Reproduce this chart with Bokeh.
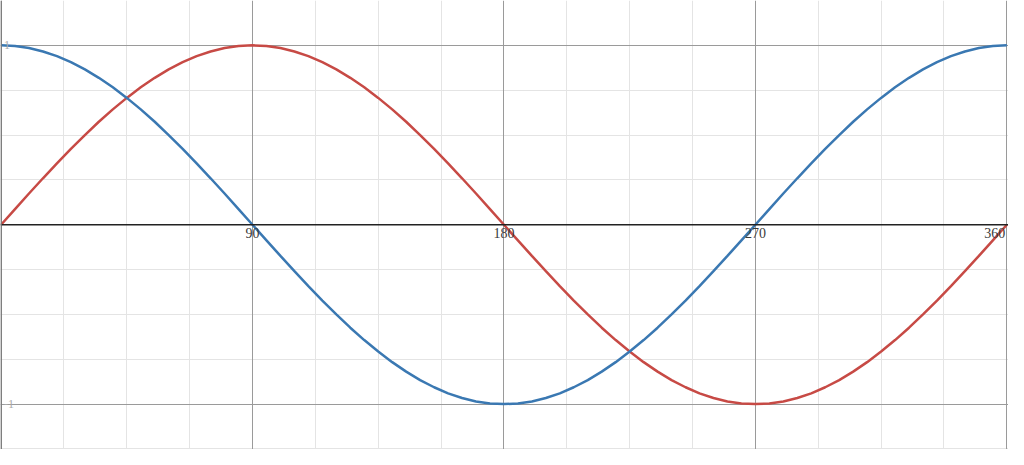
from bokeh.plotting import figure
from bokeh.models import Grid, FixedTicker, Span, ColumnDataSource
from bokeh.core.properties import value
from bokeh.embed import file_html
from bokeh.resources import INLINE

# --- data ---
angles = list(range(0, 361, 5))
sin_vals = [0.0, 0.087, 0.174, 0.259, 0.342, 0.423, 0.5, 0.574, 0.643, 0.707, 0.766, 0.819, 0.866, 0.906, 0.940, 0.966, 0.985, 0.996, 1.0,
            0.996, 0.985, 0.966, 0.940, 0.906, 0.866, 0.819, 0.766, 0.707, 0.643, 0.574, 0.5, 0.423, 0.342, 0.259, 0.174, 0.087, 0.0,
            -0.087, -0.174, -0.259, -0.342, -0.423, -0.5, -0.574, -0.643, -0.707, -0.766, -0.819, -0.866, -0.906, -0.940, -0.966, -0.985, -0.996, -1.0,
            -0.996, -0.985, -0.966, -0.940, -0.906, -0.866, -0.819, -0.766, -0.707, -0.643, -0.574, -0.5, -0.423, -0.342, -0.259, -0.174, -0.087, 0.0]
cos_vals = [1.0, 0.996, 0.985, 0.966, 0.940, 0.906, 0.866, 0.819, 0.766, 0.707, 0.643, 0.574, 0.5, 0.423, 0.342, 0.259, 0.174, 0.087, 0.0,
            -0.087, -0.174, -0.259, -0.342, -0.423, -0.5, -0.574, -0.643, -0.707, -0.766, -0.819, -0.866, -0.906, -0.940, -0.966, -0.985, -0.996, -1.0,
            -0.996, -0.985, -0.966, -0.940, -0.906, -0.866, -0.819, -0.766, -0.707, -0.643, -0.574, -0.5, -0.423, -0.342, -0.259, -0.174, -0.087, 0.0,
            0.087, 0.174, 0.259, 0.342, 0.423, 0.5, 0.574, 0.643, 0.707, 0.766, 0.819, 0.866, 0.906, 0.940, 0.966, 0.985, 0.996, 1.0]

x_minor_ticks = [22.5, 45, 67.5, 112.5, 135, 157.5, 202.5, 225, 247.5, 292.5, 315, 337.5]
x_major_ticks = [0, 90, 180, 270, 360]
y_minor_ticks = [-1.25, -0.75, -0.5, -0.25, 0.25, 0.5, 0.75, 1.25]
y_major_ticks = [-1, 1]
x_labels = ["90", "180", "270", "360"]
x_label_pos = [90, 180, 270, 360]
y_labels = ["1", "-1"]
y_label_pos = [1, -1]

p = figure(width=1008, height=449, x_range=(-0.2, 360.6), y_range=(-1.253, 1.25),
           x_axis_type=None, y_axis_type=None, toolbar_location=None,
           output_backend="svg", min_border=0, outline_line_color=None,
           background_fill_color="white", border_fill_color="white")

p.add_layout(Grid(dimension=0, ticker=FixedTicker(ticks=x_minor_ticks), grid_line_color="#e4e4e4", grid_line_width=1))
p.add_layout(Grid(dimension=1, ticker=FixedTicker(ticks=y_minor_ticks), grid_line_color="#e4e4e4", grid_line_width=1))
p.add_layout(Grid(dimension=0, ticker=FixedTicker(ticks=x_major_ticks), grid_line_color="#9a9a9a", grid_line_width=1))
p.add_layout(Grid(dimension=1, ticker=FixedTicker(ticks=y_major_ticks), grid_line_color="#9a9a9a", grid_line_width=1))

p.add_layout(Span(location=0, dimension="width", line_color="#222222", line_width=1.5))
p.add_layout(Span(location=0, dimension="height", line_color="#777777", line_width=1.5))

p.line(angles, sin_vals, line_color="#c74a45", line_width=2.5)
p.line(angles, cos_vals, line_color="#3a78b2", line_width=2.5)

lab = ColumnDataSource(dict(x=x_label_pos, y=[0] * len(x_label_pos), t=x_labels,
                            xo=[0, 0, 0, -12], al=["center", "center", "center", "center"]))
p.text(x="x", y="y", text="t", source=lab, x_offset="xo", y_offset=3,
       text_align="al", text_baseline="top", text_font=value("Liberation Serif"),
       text_font_size="14px", text_color="#3a3a3a")

ylab = ColumnDataSource(dict(x=[0, 0], y=y_label_pos, t=y_labels))
p.text(x="x", y="y", text="t", source=ylab, x_offset=3, y_offset=0,
       text_align="left", text_baseline="middle", text_font=value("Liberation Serif"),
       text_font_size="12px", text_color="#aaaaaa")

open("out.html", "w").write(file_html(p, INLINE))
